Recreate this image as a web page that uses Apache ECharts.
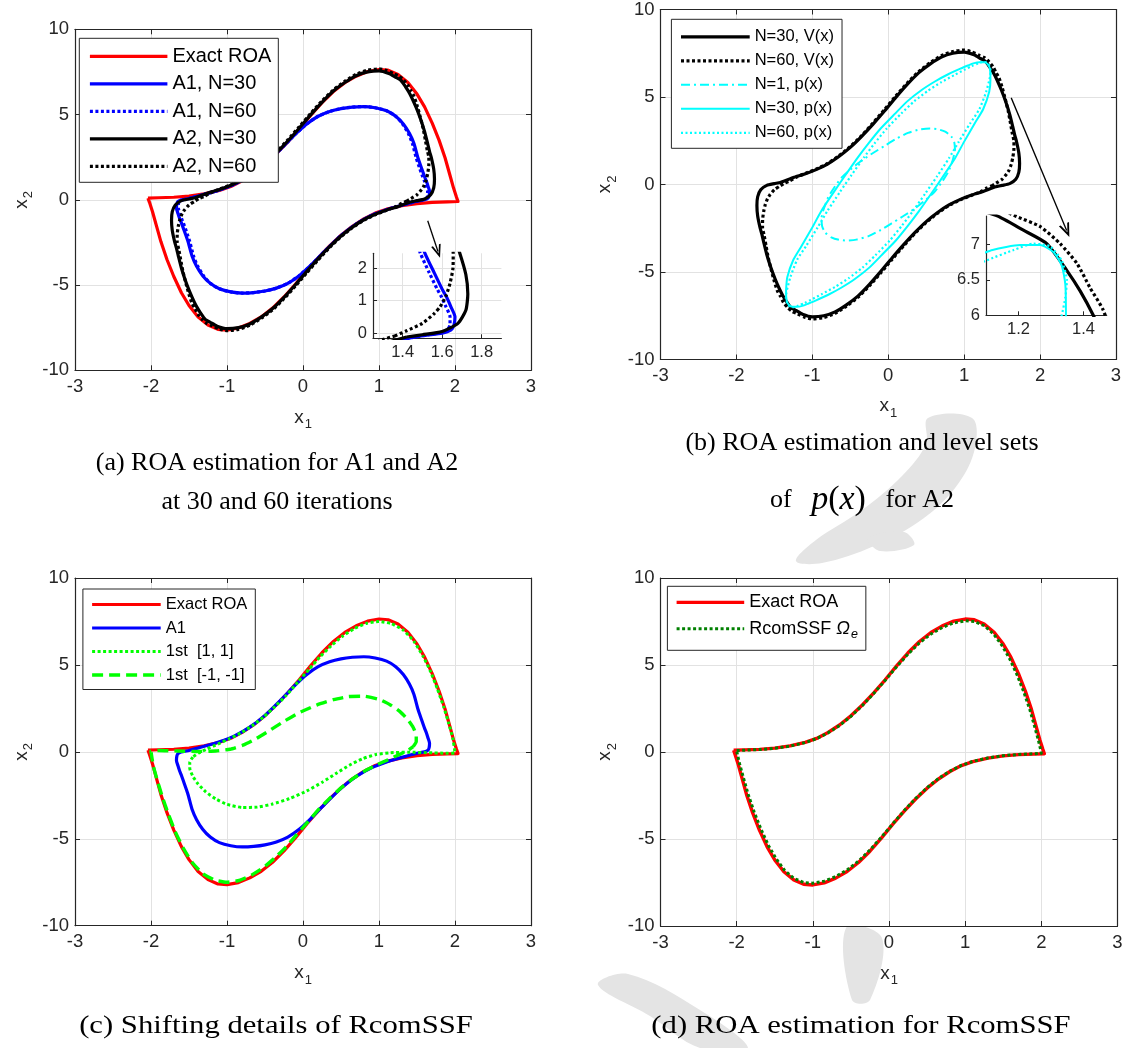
<!DOCTYPE html>
<html><head><meta charset="utf-8">
<script src="https://cdn.jsdelivr.net/npm/echarts@6/dist/echarts.min.js"></script>
<style>html,body{margin:0;padding:0;background:#fff;}#c{width:1127px;height:1048px;}</style>
</head><body><div id="c"></div>
<script>
// ---------------- data ----------------
const mainXTicks = [-3,-2,-1,0,1,2,3];
const mainYTicks = [-10,-5,0,5,10];
const insetAXTicks = [1.4,1.6,1.8];
const insetAYTicks = [0,1,2];
const insetBXTicks = [1.2,1.4];
const insetBYTicks = [6,6.5,7];

const legendA = ['Exact ROA','A1, N=30','A1, N=60','A2, N=30','A2, N=60'];
const legendB = ['N=30, V(x)','N=60, V(x)','N=1, p(x)','N=30, p(x)','N=60, p(x)'];
const legendC = ['Exact ROA','A1','1st  [1, 1]','1st  [-1, -1]'];
const legendD = ['Exact ROA','RcomSSF'];
const captions = ['(a) ROA estimation for A1 and A2','at 30 and 60 iterations',
  '(b) ROA estimation and level sets','(c) Shifting details of RcomSSF','(d) ROA estimation for RcomSSF'];

const exactROA = [[-2.04,0.1],[-1.9,0.12],[-1.7,0.15],[-1.5,0.22],[-1.3,0.35],[-1.1,0.55],[-0.95,0.78],[-0.8,1.12],[-0.65,1.55],[-0.5,2.08],[-0.35,2.7],[-0.2,3.4],[-0.05,4.15],[0.1,4.95],[0.25,5.7],[0.4,6.35],[0.55,6.87],[0.7,7.25],[0.85,7.52],[1.0,7.64],[1.12,7.6],[1.25,7.35],[1.38,6.88],[1.5,6.2],[1.6,5.45],[1.7,4.5],[1.79,3.5],[1.87,2.45],[1.93,1.5],[1.98,0.7],[2.02,0.15],[2.04,-0.1],[1.9,-0.12],[1.7,-0.15],[1.5,-0.22],[1.3,-0.35],[1.1,-0.55],[0.95,-0.78],[0.8,-1.12],[0.65,-1.55],[0.5,-2.08],[0.35,-2.7],[0.2,-3.4],[0.05,-4.15],[-0.1,-4.95],[-0.25,-5.7],[-0.4,-6.35],[-0.55,-6.87],[-0.7,-7.25],[-0.85,-7.52],[-1.0,-7.64],[-1.12,-7.6],[-1.25,-7.35],[-1.38,-6.88],[-1.5,-6.2],[-1.6,-5.45],[-1.7,-4.5],[-1.79,-3.5],[-1.87,-2.45],[-1.93,-1.5],[-1.98,-0.7],[-2.02,-0.15],[-2.04,0.1]];

const a2N30 = [[1.42,-0.12],[1.5,-0.05],[1.6,0.05],[1.68,0.3],[1.72,0.7],[1.73,1.2],[1.72,1.8],[1.687,2.5],[1.667,2.8],[1.64,3.3],[1.6,4.0],[1.55,4.7],[1.49,5.4],[1.43,6.0],[1.39,6.34],[1.349,6.63],[1.287,7.01],[1.215,7.2],[1.13,7.41],[1.0,7.56],[0.85,7.5],[0.7,7.28],[0.55,6.88],[0.4,6.38],[0.25,5.72],[0.1,4.98],[-0.05,4.2],[-0.2,3.45],[-0.35,2.75],[-0.5,2.12],[-0.65,1.6],[-0.8,1.17],[-0.95,0.85],[-1.1,0.6],[-1.25,0.4],[-1.42,0.12],[-1.5,0.05],[-1.6,-0.05],[-1.68,-0.3],[-1.72,-0.7],[-1.73,-1.2],[-1.72,-1.8],[-1.687,-2.5],[-1.667,-2.8],[-1.64,-3.3],[-1.6,-4.0],[-1.55,-4.7],[-1.49,-5.4],[-1.43,-6.0],[-1.39,-6.34],[-1.349,-6.63],[-1.287,-7.01],[-1.215,-7.2],[-1.13,-7.41],[-1.0,-7.56],[-0.85,-7.5],[-0.7,-7.28],[-0.55,-6.88],[-0.4,-6.38],[-0.25,-5.72],[-0.1,-4.98],[0.05,-4.2],[0.2,-3.45],[0.35,-2.75],[0.5,-2.12],[0.65,-1.6],[0.8,-1.17],[0.95,-0.85],[1.1,-0.6],[1.25,-0.4],[1.42,-0.12]];

const a2N60 = [[1.36,-0.09],[1.42,0.07],[1.5,0.3],[1.56,0.6],[1.59,0.81],[1.62,1.15],[1.64,1.53],[1.655,2.0],[1.656,2.46],[1.635,2.9],[1.61,3.5],[1.58,4.2],[1.54,4.9],[1.5,5.55],[1.46,6.08],[1.42,6.39],[1.38,6.73],[1.328,7.01],[1.267,7.25],[1.195,7.39],[1.1,7.58],[1.0,7.68],[0.85,7.6],[0.7,7.36],[0.55,6.95],[0.4,6.45],[0.25,5.8],[0.1,5.06],[-0.05,4.28],[-0.2,3.52],[-0.35,2.8],[-0.5,2.17],[-0.65,1.64],[-0.8,1.2],[-0.95,0.88],[-1.1,0.62],[-1.22,0.4],[-1.3,0.2],[-1.36,0.09],[-1.42,-0.07],[-1.5,-0.3],[-1.56,-0.6],[-1.59,-0.81],[-1.62,-1.15],[-1.64,-1.53],[-1.655,-2.0],[-1.656,-2.46],[-1.635,-2.9],[-1.61,-3.5],[-1.58,-4.2],[-1.54,-4.9],[-1.5,-5.55],[-1.46,-6.08],[-1.42,-6.39],[-1.38,-6.73],[-1.328,-7.01],[-1.267,-7.25],[-1.195,-7.39],[-1.1,-7.58],[-1.0,-7.68],[-0.85,-7.6],[-0.7,-7.36],[-0.55,-6.95],[-0.4,-6.45],[-0.25,-5.8],[-0.1,-5.06],[0.05,-4.28],[0.2,-3.52],[0.35,-2.8],[0.5,-2.17],[0.65,-1.64],[0.8,-1.2],[0.95,-0.88],[1.1,-0.62],[1.22,-0.4],[1.3,-0.2],[1.36,-0.09]];

const a1N30 = [[-1.6,0.0],[-1.5,0.08],[-1.3,0.32],[-1.1,0.58],[-0.9,0.92],[-0.7,1.42],[-0.5,2.1],[-0.3,2.95],[-0.1,3.85],[0.05,4.45],[0.2,4.9],[0.35,5.18],[0.5,5.35],[0.65,5.44],[0.8,5.47],[0.95,5.4],[1.1,5.22],[1.22,4.9],[1.32,4.45],[1.4,3.9],[1.46,3.3],[1.513,2.45],[1.56,1.85],[1.6,1.35],[1.623,1.1],[1.645,0.8],[1.665,0.5],[1.66,0.25],[1.645,0.1],[1.6,0.0],[1.5,-0.08],[1.3,-0.32],[1.1,-0.58],[0.9,-0.92],[0.7,-1.42],[0.5,-2.1],[0.3,-2.95],[0.1,-3.85],[-0.05,-4.45],[-0.2,-4.9],[-0.35,-5.18],[-0.5,-5.35],[-0.65,-5.44],[-0.8,-5.47],[-0.95,-5.4],[-1.1,-5.22],[-1.22,-4.9],[-1.32,-4.45],[-1.4,-3.9],[-1.46,-3.3],[-1.513,-2.45],[-1.56,-1.85],[-1.6,-1.35],[-1.623,-1.1],[-1.645,-0.8],[-1.665,-0.5],[-1.66,-0.25],[-1.645,-0.1],[-1.6,0.0]];

const a1N60 = [[-1.58,0.0],[-1.5,0.08],[-1.3,0.32],[-1.1,0.58],[-0.9,0.92],[-0.7,1.42],[-0.5,2.1],[-0.3,2.95],[-0.1,3.85],[0.05,4.45],[0.2,4.9],[0.35,5.18],[0.5,5.35],[0.65,5.44],[0.8,5.47],[0.95,5.4],[1.1,5.22],[1.22,4.9],[1.31,4.45],[1.385,3.9],[1.44,3.3],[1.49,2.45],[1.535,1.85],[1.575,1.35],[1.598,1.1],[1.62,0.8],[1.64,0.5],[1.64,0.25],[1.625,0.1],[1.58,0.0],[1.5,-0.08],[1.3,-0.32],[1.1,-0.58],[0.9,-0.92],[0.7,-1.42],[0.5,-2.1],[0.3,-2.95],[0.1,-3.85],[-0.05,-4.45],[-0.2,-4.9],[-0.35,-5.18],[-0.5,-5.35],[-0.65,-5.44],[-0.8,-5.47],[-0.95,-5.4],[-1.1,-5.22],[-1.22,-4.9],[-1.31,-4.45],[-1.385,-3.9],[-1.44,-3.3],[-1.49,-2.45],[-1.535,-1.85],[-1.575,-1.35],[-1.598,-1.1],[-1.62,-0.8],[-1.64,-0.5],[-1.64,-0.25],[-1.625,-0.1],[-1.58,0.0]];

const pN1 = [[0.88,1.94],[0.87,2.4],[0.83,2.75],[0.75,3.02],[0.65,3.16],[0.55,3.2],[0.42,3.15],[0.26,2.95],[0.1,2.6],[-0.04,2.23],[-0.2,1.8],[-0.35,1.37],[-0.5,0.85],[-0.61,0.42],[-0.7,-0.1],[-0.79,-0.72],[-0.85,-1.4],[-0.88,-1.94],[-0.87,-2.4],[-0.83,-2.75],[-0.75,-3.02],[-0.65,-3.16],[-0.55,-3.2],[-0.42,-3.15],[-0.26,-2.95],[-0.1,-2.6],[0.04,-2.23],[0.2,-1.8],[0.35,-1.37],[0.5,-0.85],[0.61,-0.42],[0.7,0.1],[0.79,0.72],[0.85,1.4],[0.88,1.94]];

const pN30 = [[-1.346,-6.0],[-1.33,-5.3],[-1.25,-4.3],[-1.14,-3.5],[-1.0,-2.45],[-0.88,-1.5],[-0.72,-0.45],[-0.57,0.5],[-0.4,1.55],[-0.26,2.35],[-0.1,3.2],[0.09,4.05],[0.25,4.75],[0.44,5.4],[0.62,5.9],[0.79,6.3],[0.95,6.62],[1.05,6.8],[1.12,6.92],[1.205,6.99],[1.267,6.99],[1.308,6.89],[1.333,6.7],[1.344,6.44],[1.346,6.0],[1.33,5.3],[1.25,4.3],[1.14,3.5],[1.0,2.45],[0.88,1.5],[0.72,0.45],[0.57,-0.5],[0.4,-1.55],[0.26,-2.35],[0.1,-3.2],[-0.09,-4.05],[-0.25,-4.75],[-0.44,-5.4],[-0.62,-5.9],[-0.79,-6.3],[-0.95,-6.62],[-1.05,-6.8],[-1.12,-6.92],[-1.205,-6.99],[-1.267,-6.99],[-1.308,-6.89],[-1.333,-6.7],[-1.344,-6.44],[-1.346,-6.0]];

const pN60 = [[-1.333,-6.0],[-1.29,-5.3],[-1.2,-4.3],[-1.08,-3.5],[-0.93,-2.45],[-0.8,-1.5],[-0.64,-0.45],[-0.49,0.5],[-0.32,1.55],[-0.18,2.35],[-0.02,3.2],[0.17,4.05],[0.34,4.75],[0.52,5.35],[0.7,5.85],[0.87,6.25],[1.0,6.55],[1.1,6.77],[1.185,6.92],[1.246,7.01],[1.298,6.97],[1.333,6.77],[1.349,6.49],[1.344,6.25],[1.333,6.0],[1.29,5.3],[1.2,4.3],[1.08,3.5],[0.93,2.45],[0.8,1.5],[0.64,0.45],[0.49,-0.5],[0.32,-1.55],[0.18,-2.35],[0.02,-3.2],[-0.17,-4.05],[-0.34,-4.75],[-0.52,-5.35],[-0.7,-5.85],[-0.87,-6.25],[-1.0,-6.55],[-1.1,-6.77],[-1.185,-6.92],[-1.246,-7.01],[-1.298,-6.97],[-1.333,-6.77],[-1.349,-6.49],[-1.344,-6.25],[-1.333,-6.0]];

const shiftM11 = [[1.45,0.3],[1.49,0.6],[1.49,0.95],[1.45,1.4],[1.38,1.85],[1.28,2.3],[1.15,2.7],[1.0,3.02],[0.8,3.2],[0.6,3.18],[0.4,3.0],[0.18,2.69],[-0.05,2.25],[-0.26,1.73],[-0.45,1.2],[-0.61,0.77],[-0.78,0.4],[-0.96,0.15],[-1.15,0.05],[-1.4,0.02],[-1.65,0.05],[-1.9,0.08],[-2.0,0.05],[-1.97,-0.8],[-1.92,-1.6],[-1.85,-2.6],[-1.77,-3.6],[-1.68,-4.6],[-1.58,-5.5],[-1.46,-6.35],[-1.32,-7.0],[-1.16,-7.38],[-1.0,-7.5],[-0.84,-7.4],[-0.68,-7.1],[-0.52,-6.65],[-0.37,-6.1],[-0.22,-5.45],[-0.08,-4.75],[0.07,-4.0],[0.22,-3.25],[0.37,-2.6],[0.52,-2.0],[0.67,-1.5],[0.82,-1.08],[0.97,-0.75],[1.12,-0.45],[1.27,-0.15],[1.38,0.08],[1.45,0.3]];

const shift11 = [[-1.45,-0.3],[-1.49,-0.6],[-1.49,-0.95],[-1.45,-1.4],[-1.38,-1.85],[-1.28,-2.3],[-1.15,-2.7],[-1.0,-3.02],[-0.8,-3.2],[-0.6,-3.18],[-0.4,-3.0],[-0.18,-2.69],[0.05,-2.25],[0.26,-1.73],[0.45,-1.2],[0.61,-0.77],[0.78,-0.4],[0.96,-0.15],[1.15,-0.05],[1.4,-0.02],[1.65,-0.05],[1.9,-0.08],[2.0,-0.05],[1.97,0.8],[1.92,1.6],[1.85,2.6],[1.77,3.6],[1.68,4.6],[1.58,5.5],[1.46,6.35],[1.32,7.0],[1.16,7.38],[1.0,7.5],[0.84,7.4],[0.68,7.1],[0.52,6.65],[0.37,6.1],[0.22,5.45],[0.08,4.75],[-0.07,4.0],[-0.22,3.25],[-0.37,2.6],[-0.52,2.0],[-0.67,1.5],[-0.82,1.08],[-0.97,0.75],[-1.12,0.45],[-1.27,0.15],[-1.38,-0.08],[-1.45,-0.3]];

const rcomSSF = [[-2.0,0.08],[-1.9,0.1],[-1.7,0.14],[-1.5,0.21],[-1.3,0.34],[-1.1,0.54],[-0.95,0.77],[-0.8,1.1],[-0.65,1.52],[-0.5,2.05],[-0.35,2.67],[-0.2,3.37],[-0.05,4.12],[0.1,4.9],[0.25,5.63],[0.4,6.27],[0.55,6.78],[0.7,7.16],[0.85,7.42],[1.0,7.54],[1.12,7.5],[1.25,7.26],[1.37,6.8],[1.48,6.15],[1.58,5.4],[1.68,4.45],[1.77,3.45],[1.85,2.42],[1.91,1.5],[1.96,0.7],[1.99,0.15],[2.0,-0.08],[1.9,-0.1],[1.7,-0.14],[1.5,-0.21],[1.3,-0.34],[1.1,-0.54],[0.95,-0.77],[0.8,-1.1],[0.65,-1.52],[0.5,-2.05],[0.35,-2.67],[0.2,-3.37],[0.05,-4.12],[-0.1,-4.9],[-0.25,-5.63],[-0.4,-6.27],[-0.55,-6.78],[-0.7,-7.16],[-0.85,-7.42],[-1.0,-7.54],[-1.12,-7.5],[-1.25,-7.26],[-1.37,-6.8],[-1.48,-6.15],[-1.58,-5.4],[-1.68,-4.45],[-1.77,-3.45],[-1.85,-2.42],[-1.91,-1.5],[-1.96,-0.7],[-1.99,-0.15],[-2.0,0.08]];

// annotation arrows (data coordinates)
const arrowA = [[1.641,-1.23],[1.776,-3.03]];
const arrowB = [[1.62,4.95],[2.35,-2.63]];

// ---------------- styling / layout ----------------
const FONT = '"Liberation Sans", Arial, Helvetica, sans-serif';
const SERIF = '"Liberation Serif", "Times New Roman", serif';
const AX = '#262626', GRIDC = '#e2e2e2', WM = '#e4e4e4';
const panels = [
  {left:75, top:29.3, width:456, height:341},
  {left:660.5, top:9, width:455.5, height:350.5},
  {left:75, top:578, width:456, height:347.7},
  {left:660.5, top:578, width:457, height:348}
];
const grids = panels.map(p => ({left:p.left, top:p.top, width:p.width, height:p.height, show:true, backgroundColor:'#fff', borderWidth:0}));
grids.push({left:373, top:253.3, width:128.4, height:85, show:false});
grids.push({left:986, top:216, width:120.7, height:99.3, show:false});

const xAxes = [], yAxes = [];
const nameRich = fs => ({v:{fontSize:fs, color:AX, fontFamily:FONT}, s:{fontSize:Math.round(fs*0.7), color:AX, fontFamily:FONT, padding:[14,0,0,1]}});
const step = a => a[1]-a[0];
const nameGaps = [{x:34,y:40},{x:33,y:42},{x:34,y:40},{x:34,y:42}];
panels.forEach((p,i) => {
  const common = {type:'value', gridIndex:i, z:3,
    axisLine:{show:true, onZero:false, lineStyle:{color:AX, width:1.2}},
    axisTick:{show:true, inside:true, length:5, lineStyle:{color:AX, width:1}}};
  xAxes.push(Object.assign({}, common, {position:'bottom', min:mainXTicks[0], max:mainXTicks[mainXTicks.length-1], interval:step(mainXTicks),
    axisLabel:{color:AX, fontSize:18.5, fontFamily:FONT, margin:7},
    splitLine:{show:true, lineStyle:{color:GRIDC, width:1}},
    name:'{v|x}{s|1}', nameLocation:'middle', nameGap:nameGaps[i].x, nameTextStyle:{rich:nameRich(19)}}));
  xAxes.push(Object.assign({}, common, {position:'top', min:mainXTicks[0], max:mainXTicks[mainXTicks.length-1], interval:step(mainXTicks),
    axisLabel:{show:false}, splitLine:{show:false}}));
  yAxes.push(Object.assign({}, common, {position:'left', min:mainYTicks[0], max:mainYTicks[mainYTicks.length-1], interval:step(mainYTicks),
    axisLabel:{color:AX, fontSize:18.5, fontFamily:FONT, margin:6},
    splitLine:{show:true, lineStyle:{color:GRIDC, width:1}},
    name:'{v|x}{s|2}', nameLocation:'middle', nameGap:nameGaps[i].y, nameTextStyle:{rich:nameRich(19)}}));
  yAxes.push(Object.assign({}, common, {position:'right', min:mainYTicks[0], max:mainYTicks[mainYTicks.length-1], interval:step(mainYTicks),
    axisLabel:{show:false}, splitLine:{show:false}}));
});
function insetAxis(gi, pos, min, max, ticks, fs, grid) {
  return {type:'value', gridIndex:gi, position:pos, min:min, max:max, z:3,
    axisLine:{show:true, onZero:false, lineStyle:{color:AX, width:1.2}},
    axisTick:{show:true, inside:true, length:4, customValues:ticks, lineStyle:{color:AX}},
    axisLabel:{color:AX, fontSize:fs, fontFamily:FONT, margin:6, customValues:ticks},
    splitLine:{show:grid, lineStyle:{color:GRIDC, width:1}}};
}
xAxes.push(insetAxis(4,'bottom',1.25,1.9,insetAXTicks,16.5,true));
yAxes.push(insetAxis(4,'left',-0.16,2.45,insetAYTicks,16.5,true));
xAxes.push(insetAxis(5,'bottom',1.1,1.4714,insetBXTicks,16.5,false));
yAxes.push(insetAxis(5,'left',6,7.4,insetBYTicks,16.5,false));

function ln(name, data, ax, color, width, type, smooth, extra) {
  return Object.assign({type:'line', name:name, data:data, xAxisIndex:ax, yAxisIndex:ax,
    symbol:'none', showSymbol:false, smooth:smooth, silent:true, animation:false, clip:true, z:4,
    lineStyle:{color:color, width:width, type:type, cap:'butt', join:'round'},
    itemStyle:{color:color}, emphasis:{disabled:true}}, extra||{});
}
const DOT = [3,2.5], CDOT = [2,2.5], DASH = [11,6], DASHDOT = [9,4,2,4];
const chevron = 'path://M5,0 L10,11 L8.2,11 L5,4 L1.8,11 L0,11 Z';
function arrowLine(pts, size) {
  return {silent:true, animation:false, symbol:['none', chevron], symbolSize:size, label:{show:false},
    lineStyle:{color:'#000', width:1.3, type:'solid'}, emphasis:{disabled:true},
    data:[[{coord:pts[0]},{coord:pts[1]}]]};
}

const series = [
  // (a)
  ln('Exact ROA', exactROA, 0, '#ff0000', 3.2, 'solid', 0),
  ln('A1, N=30', a1N30, 0, '#0000ff', 3.2, 'solid', 0.2),
  ln('A1, N=60', a1N60, 0, '#0000ff', 3.2, DOT, 0.2),
  ln('A2, N=30', a2N30, 0, '#000000', 3.2, 'solid', 0.2),
  ln('A2, N=60', a2N60, 0, '#000000', 3.2, DOT, 0.2, {markLine:arrowLine(arrowA,[10,13])}),
  // (a) inset
  ln('A1, N=30', a1N30, 8, '#0000ff', 3.2, 'solid', 0.2),
  ln('A1, N=60', a1N60, 8, '#0000ff', 3.2, DOT, 0.2),
  ln('A2, N=30', a2N30, 8, '#000000', 3.2, 'solid', 0.2),
  ln('A2, N=60', a2N60, 8, '#000000', 3.2, DOT, 0.2),
  // (b)
  ln('N=30, V(x)', a2N30, 2, '#000000', 3.2, 'solid', 0.2),
  ln('N=60, V(x)', a2N60, 2, '#000000', 3.2, DOT, 0.2, {markLine:arrowLine(arrowB,[11,14])}),
  ln('N=1, p(x)', pN1, 2, '#00ffff', 2, DASHDOT, 0.2),
  ln('N=30, p(x)', pN30, 2, '#00ffff', 2, 'solid', 0.2),
  ln('N=60, p(x)', pN60, 2, '#00ffff', 2.2, CDOT, 0.2),
  // (b) inset
  ln('N=30, V(x)', a2N30, 9, '#000000', 3.2, 'solid', 0.2),
  ln('N=60, V(x)', a2N60, 9, '#000000', 3.2, DOT, 0.2),
  ln('N=30, p(x)', pN30, 9, '#00ffff', 2, 'solid', 0.2),
  ln('N=60, p(x)', pN60, 9, '#00ffff', 2.2, CDOT, 0.2),
  // (c)
  ln('Exact ROA', exactROA, 4, '#ff0000', 3.2, 'solid', 0),
  ln('A1', a1N30, 4, '#0000ff', 3.2, 'solid', 0.2),
  ln('1st  [1, 1]', shift11, 4, '#00ff00', 3, DOT, 0.15),
  ln('1st  [-1, -1]', shiftM11, 4, '#00ff00', 3.4, DASH, 0.15),
  // (d)
  ln('Exact ROA', exactROA, 6, '#ff0000', 3.4, 'solid', 0),
  ln('RcomSSF', rcomSSF, 6, '#008000', 3, DOT, 0)
];

function legend(data, left, top, fs, itemW, gap, pad, extra) {
  return Object.assign({data:data, orient:'vertical', left:left, top:top, padding:pad, itemGap:gap,
    itemWidth:itemW, itemHeight:fs, selectedMode:false, backgroundColor:'#fff',
    borderColor:AX, borderWidth:1, borderRadius:0, z:6,
    lineStyle:{width:'inherit'},
    itemStyle:{color:'rgba(0,0,0,0)', borderColor:'rgba(0,0,0,0)', borderWidth:0, opacity:0},
    textStyle:{fontSize:fs, fontFamily:FONT, color:'#000'}}, extra||{});
}
const legends = [
  legend(legendA, 79.3, 38.3, 20, 77.5, 7.5, [8,7,6,9]),
  legend(legendB, 671.4, 19.3, 16.5, 68.7, 7, [9,8,7,8]),
  legend(legendC, 82.9, 589, 16.5, 68.6, 6.5, [7,8,6,7.5]),
  legend(legendD, 667.4, 586.3, 18, 67.6, 8.5, [7,8,9,7.6], {
    formatter: n => n === 'RcomSSF' ? '{t|RcomSSF }{o|\u03A9}{s|e}' : '{t|' + n + '}',
    textStyle:{fontSize:18, fontFamily:FONT, color:'#000', rich:{
      t:{fontSize:18, fontFamily:FONT, color:'#000'},
      o:{fontSize:18, fontFamily:FONT, color:'#000', fontStyle:'italic'},
      s:{fontSize:12.5, fontFamily:FONT, color:'#000', fontStyle:'italic', padding:[12,0,0,1]}}}})
];

const capText = (t, x, y, fs, sx) => ({type:'text', x:x, y:y, scaleX:sx||1, silent:true, z:10,
  style:{text:t, fontSize:fs, fontFamily:SERIF, fill:'#000', align:'center', verticalAlign:'middle'}});
const wm = pts => ({type:'polygon', silent:true, z:-10, zlevel:0, shape:{points:pts, smooth:0.35}, style:{fill:WM}});
const graphics = [
  // faint watermark pieces behind the figure (decoration)
  wm([[928,418],[972,418],[975,448],[958,484],[924,518],[874,546],[822,563],[796,561],[816,540],[862,510],[902,476],[926,444]]),
  wm([[868,538],[904,532],[914,545],[880,551]]),
  wm([[598,985],[628,974],[700,1010],[748,1048],[700,1048],[650,1016]]),
  wm([[846,928],[882,938],[870,1000],[852,1000]]),
  capText(captions[0], 277, 463, 26),
  capText(captions[1], 277, 502, 26),
  capText(captions[2], 862, 443, 26),
  {type:'text', x:862, y:500, silent:true, z:10, style:{
    text:'{r|of   }{m|p}{q|(}{m|x}{q|)}{r|   for A2}', align:'center', verticalAlign:'middle', fill:'#000',
    rich:{r:{fontSize:26, fontFamily:SERIF, fill:'#000'},
          m:{fontSize:34, fontFamily:SERIF, fontStyle:'italic', fill:'#000'},
          q:{fontSize:34, fontFamily:SERIF, fill:'#000'}}}},
  capText(captions[3], 276, 1026, 26, 1.18),
  capText(captions[4], 861, 1026, 26, 1.18)
];

const chart = echarts.init(document.getElementById('c'), null, {renderer:'canvas'});
chart.setOption({
  animation:false, backgroundColor:'#fff',
  textStyle:{fontFamily:FONT},
  grid:grids, xAxis:xAxes, yAxis:yAxes, legend:legends, series:series, graphic:graphics
});
</script></body></html>
